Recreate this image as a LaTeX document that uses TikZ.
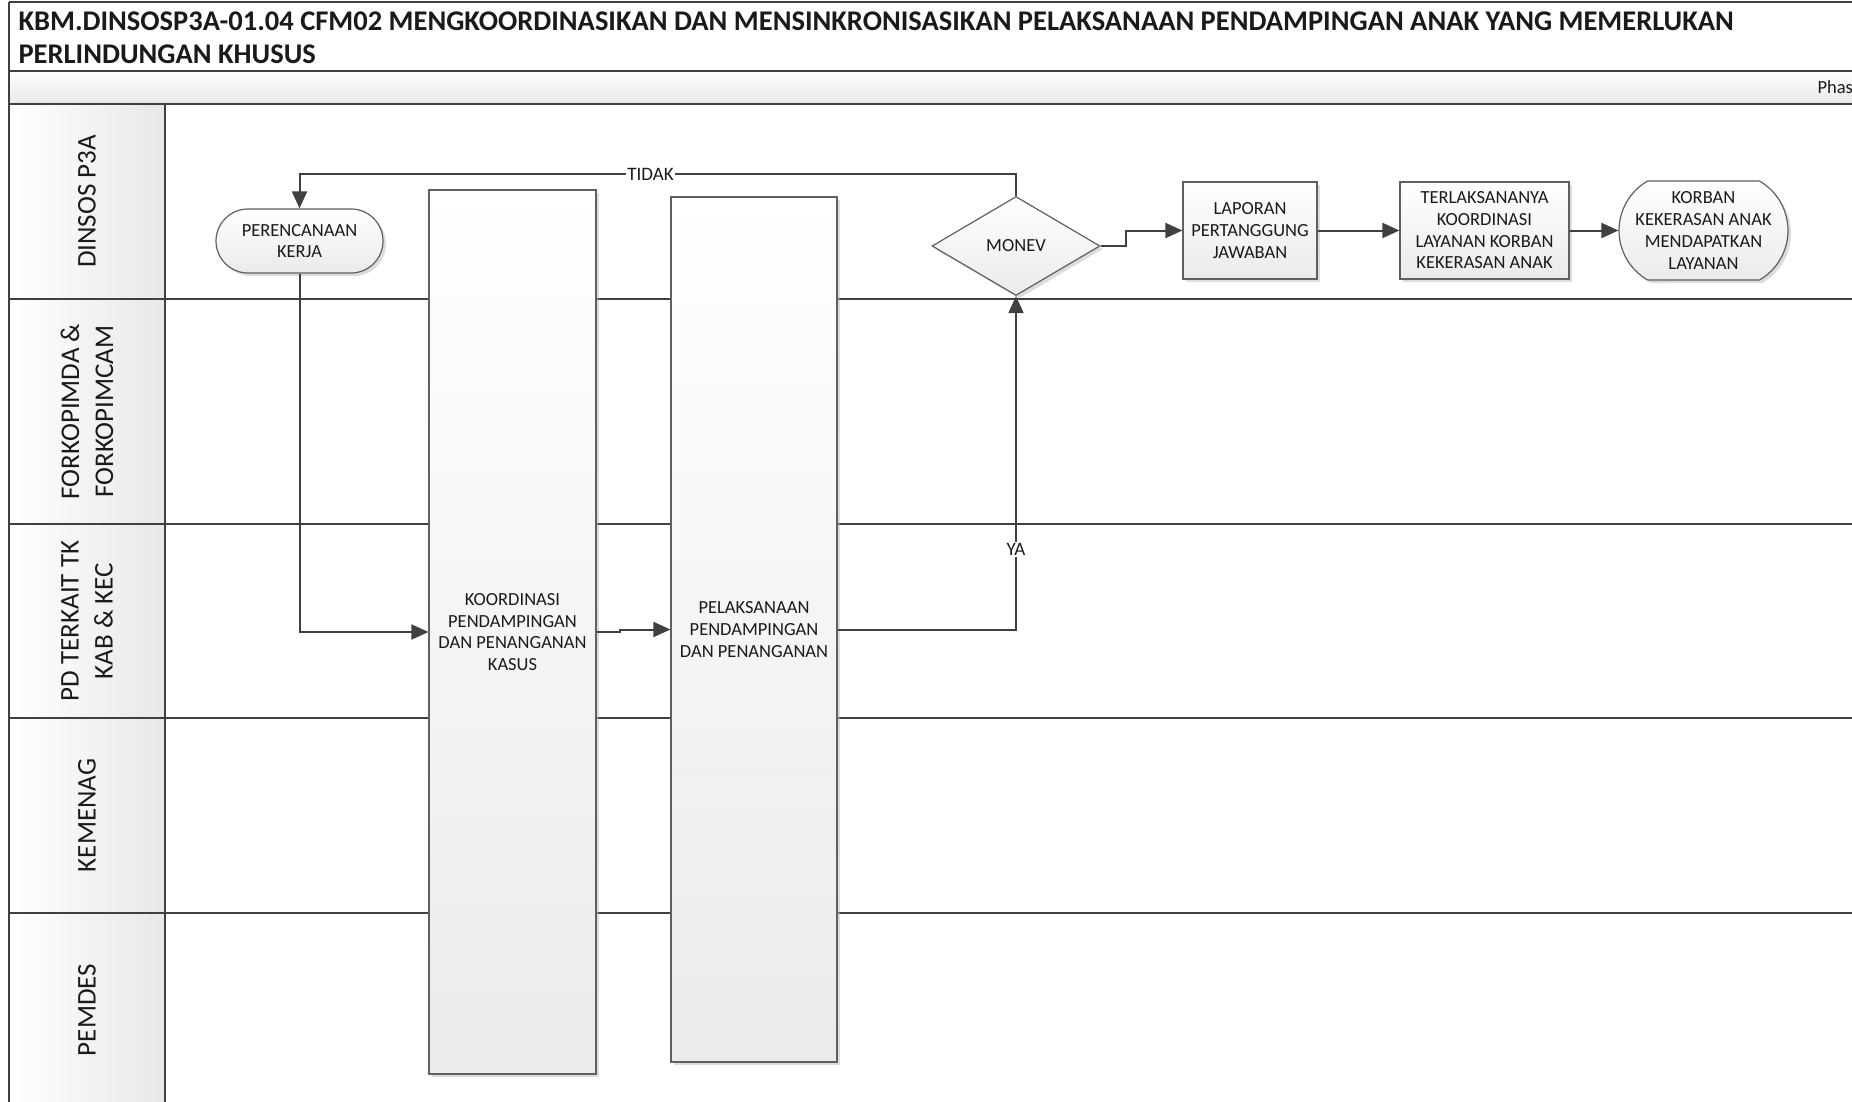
\documentclass[tikz,border=0pt]{standalone}
\usepackage{fontspec}
\setmainfont{Carlito}
\usetikzlibrary{shapes.geometric,shapes.misc,arrows.meta,shadows}
\definecolor{linec}{HTML}{404040}
\definecolor{boxc}{HTML}{606060}
\definecolor{txtc}{HTML}{1A1A1A}
\begin{document}
\begin{tikzpicture}[x=1pt,y=-1pt,
  lane/.style={draw=linec, line width=2pt},
  flow/.style={draw=linec, line width=2pt, -{Triangle[length=17pt,width=15pt]}},
  boxbase/.style={draw=boxc, line width=1.2pt, top color=white, bottom color=black!8,
     drop shadow={shadow xshift=3pt,shadow yshift=-3pt,fill=black!30,opacity=.45},
     align=center, text=txtc, font=\fontsize{18.5}{21.7}\selectfont, inner sep=0pt},
  procbox/.style={boxbase, rectangle},
  termbox/.style={boxbase, rounded rectangle},
  decbox/.style={boxbase, diamond},
  lanelabel/.style={rotate=90, align=center, text=txtc, font=\fontsize{27}{34}\selectfont},
  flowlabel/.style={fill=white, inner sep=1pt, text=txtc, font=\fontsize{19}{22}\selectfont}
]
\useasboundingbox (0,0) rectangle (1852,1102);
\clip (0,0) rectangle (1852,1102);
% background bands
\fill[white] (0,0) rectangle (1852,1102);
\shade[top color=white, bottom color=black!9] (9,71) rectangle (1852,104);
\shade[left color=white, right color=black!9] (9,104) rectangle (165,1102);
% frame lines
\draw[lane] (9,2) -- (1852,2);
\draw[lane] (9,71) -- (1852,71);
\draw[lane] (9,104) -- (1852,104);
\draw[lane] (9,2) -- (9,1102);
\draw[lane] (165,104) -- (165,1102);
\foreach \yy in {299,524,718,913} {\draw[lane] (9,\yy) -- (1852,\yy);}
% title
\node[anchor=west, align=left, text=txtc, font=\bfseries\fontsize{28.5}{33}\selectfont] (title) at (15,37.5)
  {KBM.DINSOSP3A-01.04 CFM02 MENGKOORDINASIKAN DAN MENSINKRONISASIKAN PELAKSANAAN PENDAMPINGAN ANAK YANG MEMERLUKAN\\PERLINDUNGAN KHUSUS};
\node[anchor=west, text=txtc, font=\fontsize{18.5}{21}\selectfont] (phase) at (1814,87) {Phas};
% lane labels
\node[lanelabel] (l1) at (87,201.5) {DINSOS P3A};
\node[lanelabel] (l2) at (87,411.5) {FORKOPIMDA \&\\FORKOPIMCAM};
\node[lanelabel] (l3) at (87,621) {PD TERKAIT TK\\KAB \& KEC};
\node[lanelabel] (l4) at (87,815.5) {KEMENAG};
\node[lanelabel] (l5) at (87,1010) {PEMDES};
% nodes
\node[termbox, minimum width=167pt, minimum height=64pt] (plan) at (299.5,241) {PERENCANAAN\\KERJA};
\node[procbox, minimum width=167pt, minimum height=884pt] (koord) at (512.5,632) {KOORDINASI\\PENDAMPINGAN\\DAN PENANGANAN\\KASUS};
\node[procbox, minimum width=166pt, minimum height=865pt] (pelak) at (754,629.5) {PELAKSANAAN\\PENDAMPINGAN\\DAN PENANGANAN};
\node[decbox, minimum width=168pt, minimum height=99pt] (monev) at (1016,246) {MONEV};
\node[procbox, minimum width=134pt, minimum height=97pt] (lap) at (1250,230.5) {LAPORAN\\PERTANGGUNG\\JAWABAN};
\node[procbox, minimum width=169pt, minimum height=97pt] (terl) at (1484.5,230.5) {TERLAKSANANYA\\KOORDINASI\\LAYANAN KORBAN\\KEKERASAN ANAK};
\node[termbox, rounded rectangle arc length=120, minimum width=169pt, minimum height=99pt] (korban) at (1703.5,230.5) {KORBAN\\KEKERASAN ANAK\\MENDAPATKAN\\LAYANAN};
% connectors
\draw[flow] (plan.south) |- (koord.west);
\coordinate (j1) at (620,632);
\draw[flow] (koord.east) -- (j1) |- (pelak.west);
\coordinate (j2) at (1016,629.5);
\draw[flow] (pelak.east) -- (j2) -- node[flowlabel, pos=0.24] {YA} (monev.south);
\coordinate (j3) at (1016,174);
\coordinate (j4) at (299.5,174);
\draw[flow] (monev.north) -- (j3) -- node[flowlabel, pos=0.51] {TIDAK} (j4) -- (plan.north);
\coordinate (j5) at (1126,246);
\draw[flow] (monev.east) -- (j5) |- (lap.west);
\draw[flow] (lap.east) -- (terl.west);
\draw[flow] (terl.east) -- (korban.west);
\end{tikzpicture}
\end{document}
